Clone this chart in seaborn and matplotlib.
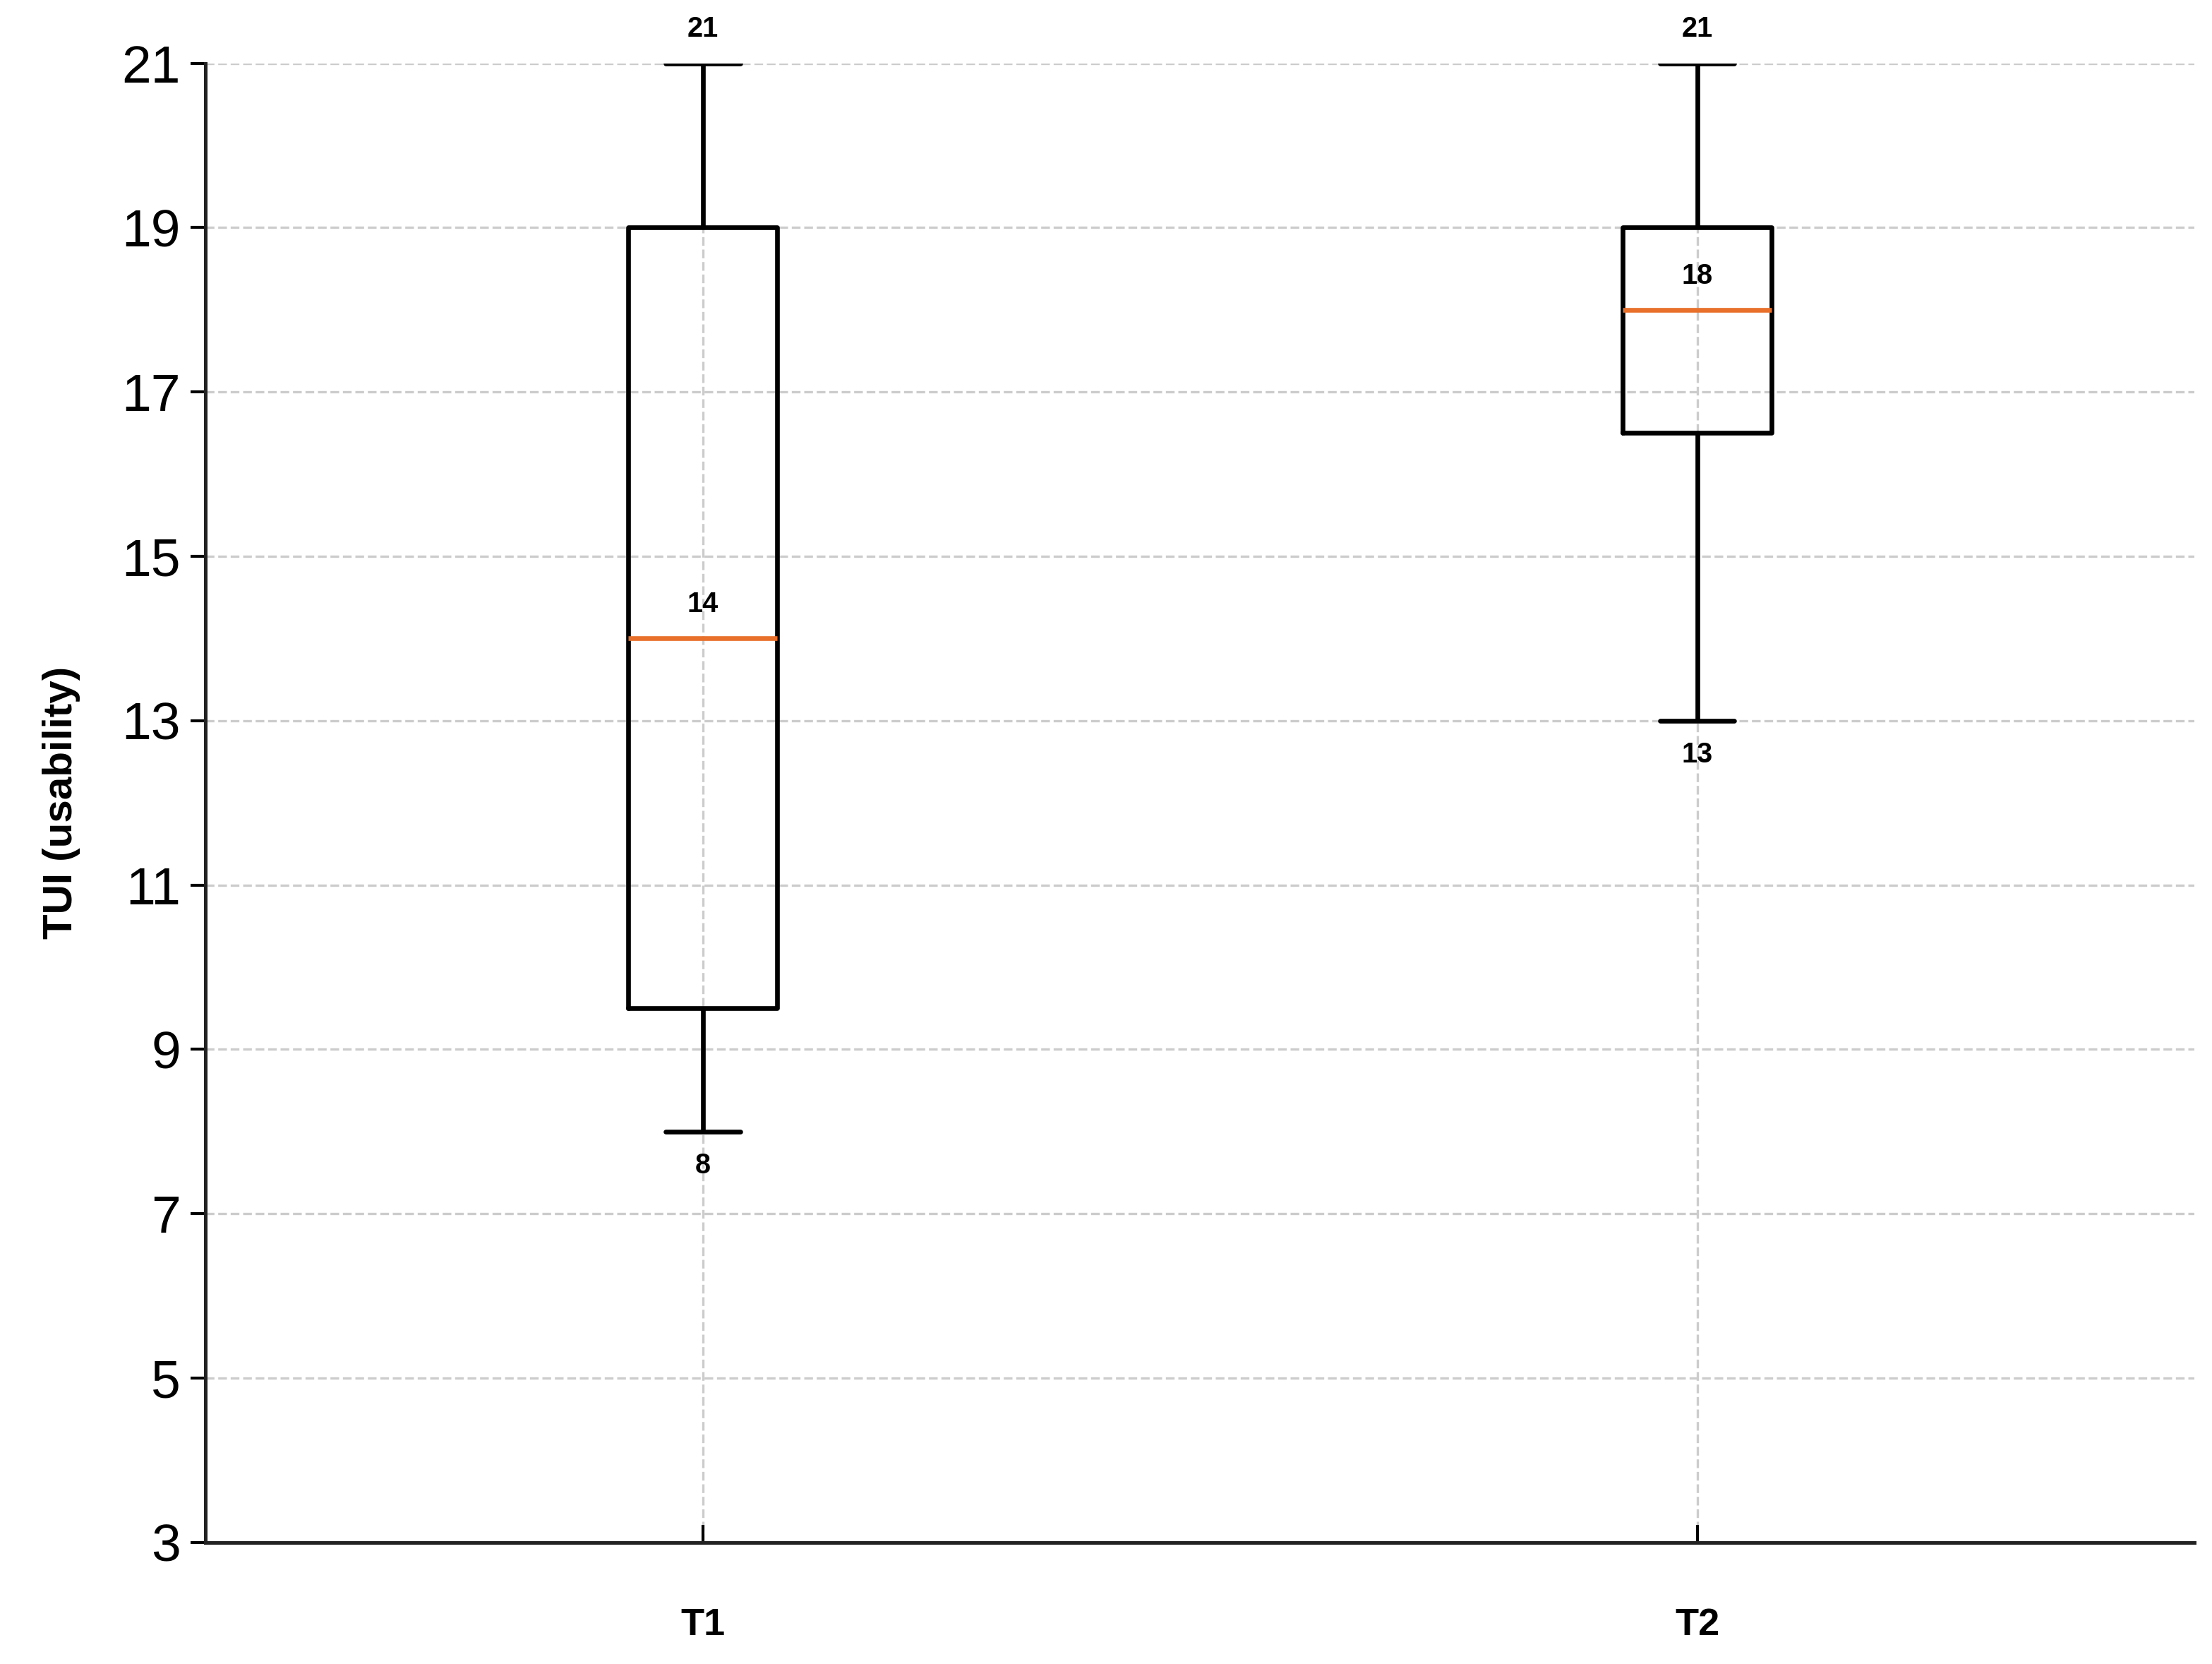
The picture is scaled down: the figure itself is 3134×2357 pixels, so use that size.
import pandas as pd
import matplotlib.pyplot as plt
import seaborn as sns

# five-number summaries (min, Q1, median, Q3, max)
groups = ['T1', 'T2']
t1_values = [8, 9.5, 14, 19, 21]
t2_values = [13, 16.5, 18, 19, 21]
y_ticks = list(range(3, 22, 2))

df = pd.DataFrame({
    'group': ['T1'] * len(t1_values) + ['T2'] * len(t2_values),
    'score': t1_values + t2_values,
})

sns.set_style('white')
plt.rcParams['font.family'] = ['Liberation Sans', 'DejaVu Sans']
plt.rcParams['text.color'] = 'black'
plt.rcParams['xtick.color'] = 'black'
plt.rcParams['ytick.color'] = 'black'
plt.rcParams['axes.labelcolor'] = 'black'

fig = plt.figure(figsize=(3134 / 300, 2357 / 300), dpi=300)
ax = fig.add_axes([0.093, 0.073, 0.899, 0.889])

lw = 1.6
sns.boxplot(data=df, x='group', y='score', order=groups, width=0.15, whis=10,
            fill=False, color='black', linewidth=lw,
            medianprops=dict(color='#E8702A', linewidth=lw),
            ax=ax)

for i, vals in enumerate([t1_values, t2_values]):
    lo, med, hi = vals[0], vals[2], vals[4]
    ax.text(i, hi + 0.25, f'{hi:g}', ha='center', va='bottom', fontsize=9.5, fontweight='bold')
    ax.text(i, med + 0.25, f'{med:g}', ha='center', va='bottom', fontsize=9.5, fontweight='bold')
    ax.text(i, lo - 0.25, f'{lo:g}', ha='center', va='top', fontsize=9.5, fontweight='bold')

ax.set_xlim(-0.5, 1.5)
ax.set_ylim(3, 21)
ax.set_yticks(y_ticks)
ax.grid(True, linestyle='--', color='#cccccc', linewidth=0.8)
ax.set_axisbelow(True)
for s in ['top', 'right']:
    ax.spines[s].set_visible(False)
for s in ['left', 'bottom']:
    ax.spines[s].set_linewidth(1.2)
    ax.spines[s].set_color('#222222')

ax.tick_params(axis='y', direction='out', length=5, width=1, labelsize=18, left=True)
ax.tick_params(axis='x', direction='in', length=6, width=1, pad=22, labelsize=13, bottom=True)
for lab in ax.get_xticklabels():
    lab.set_fontweight('bold')
ax.set_xlabel('')
ax.set_ylabel('TUI (usability)', fontsize=14, fontweight='bold', labelpad=14)

fig.savefig('out.png', dpi=300)
